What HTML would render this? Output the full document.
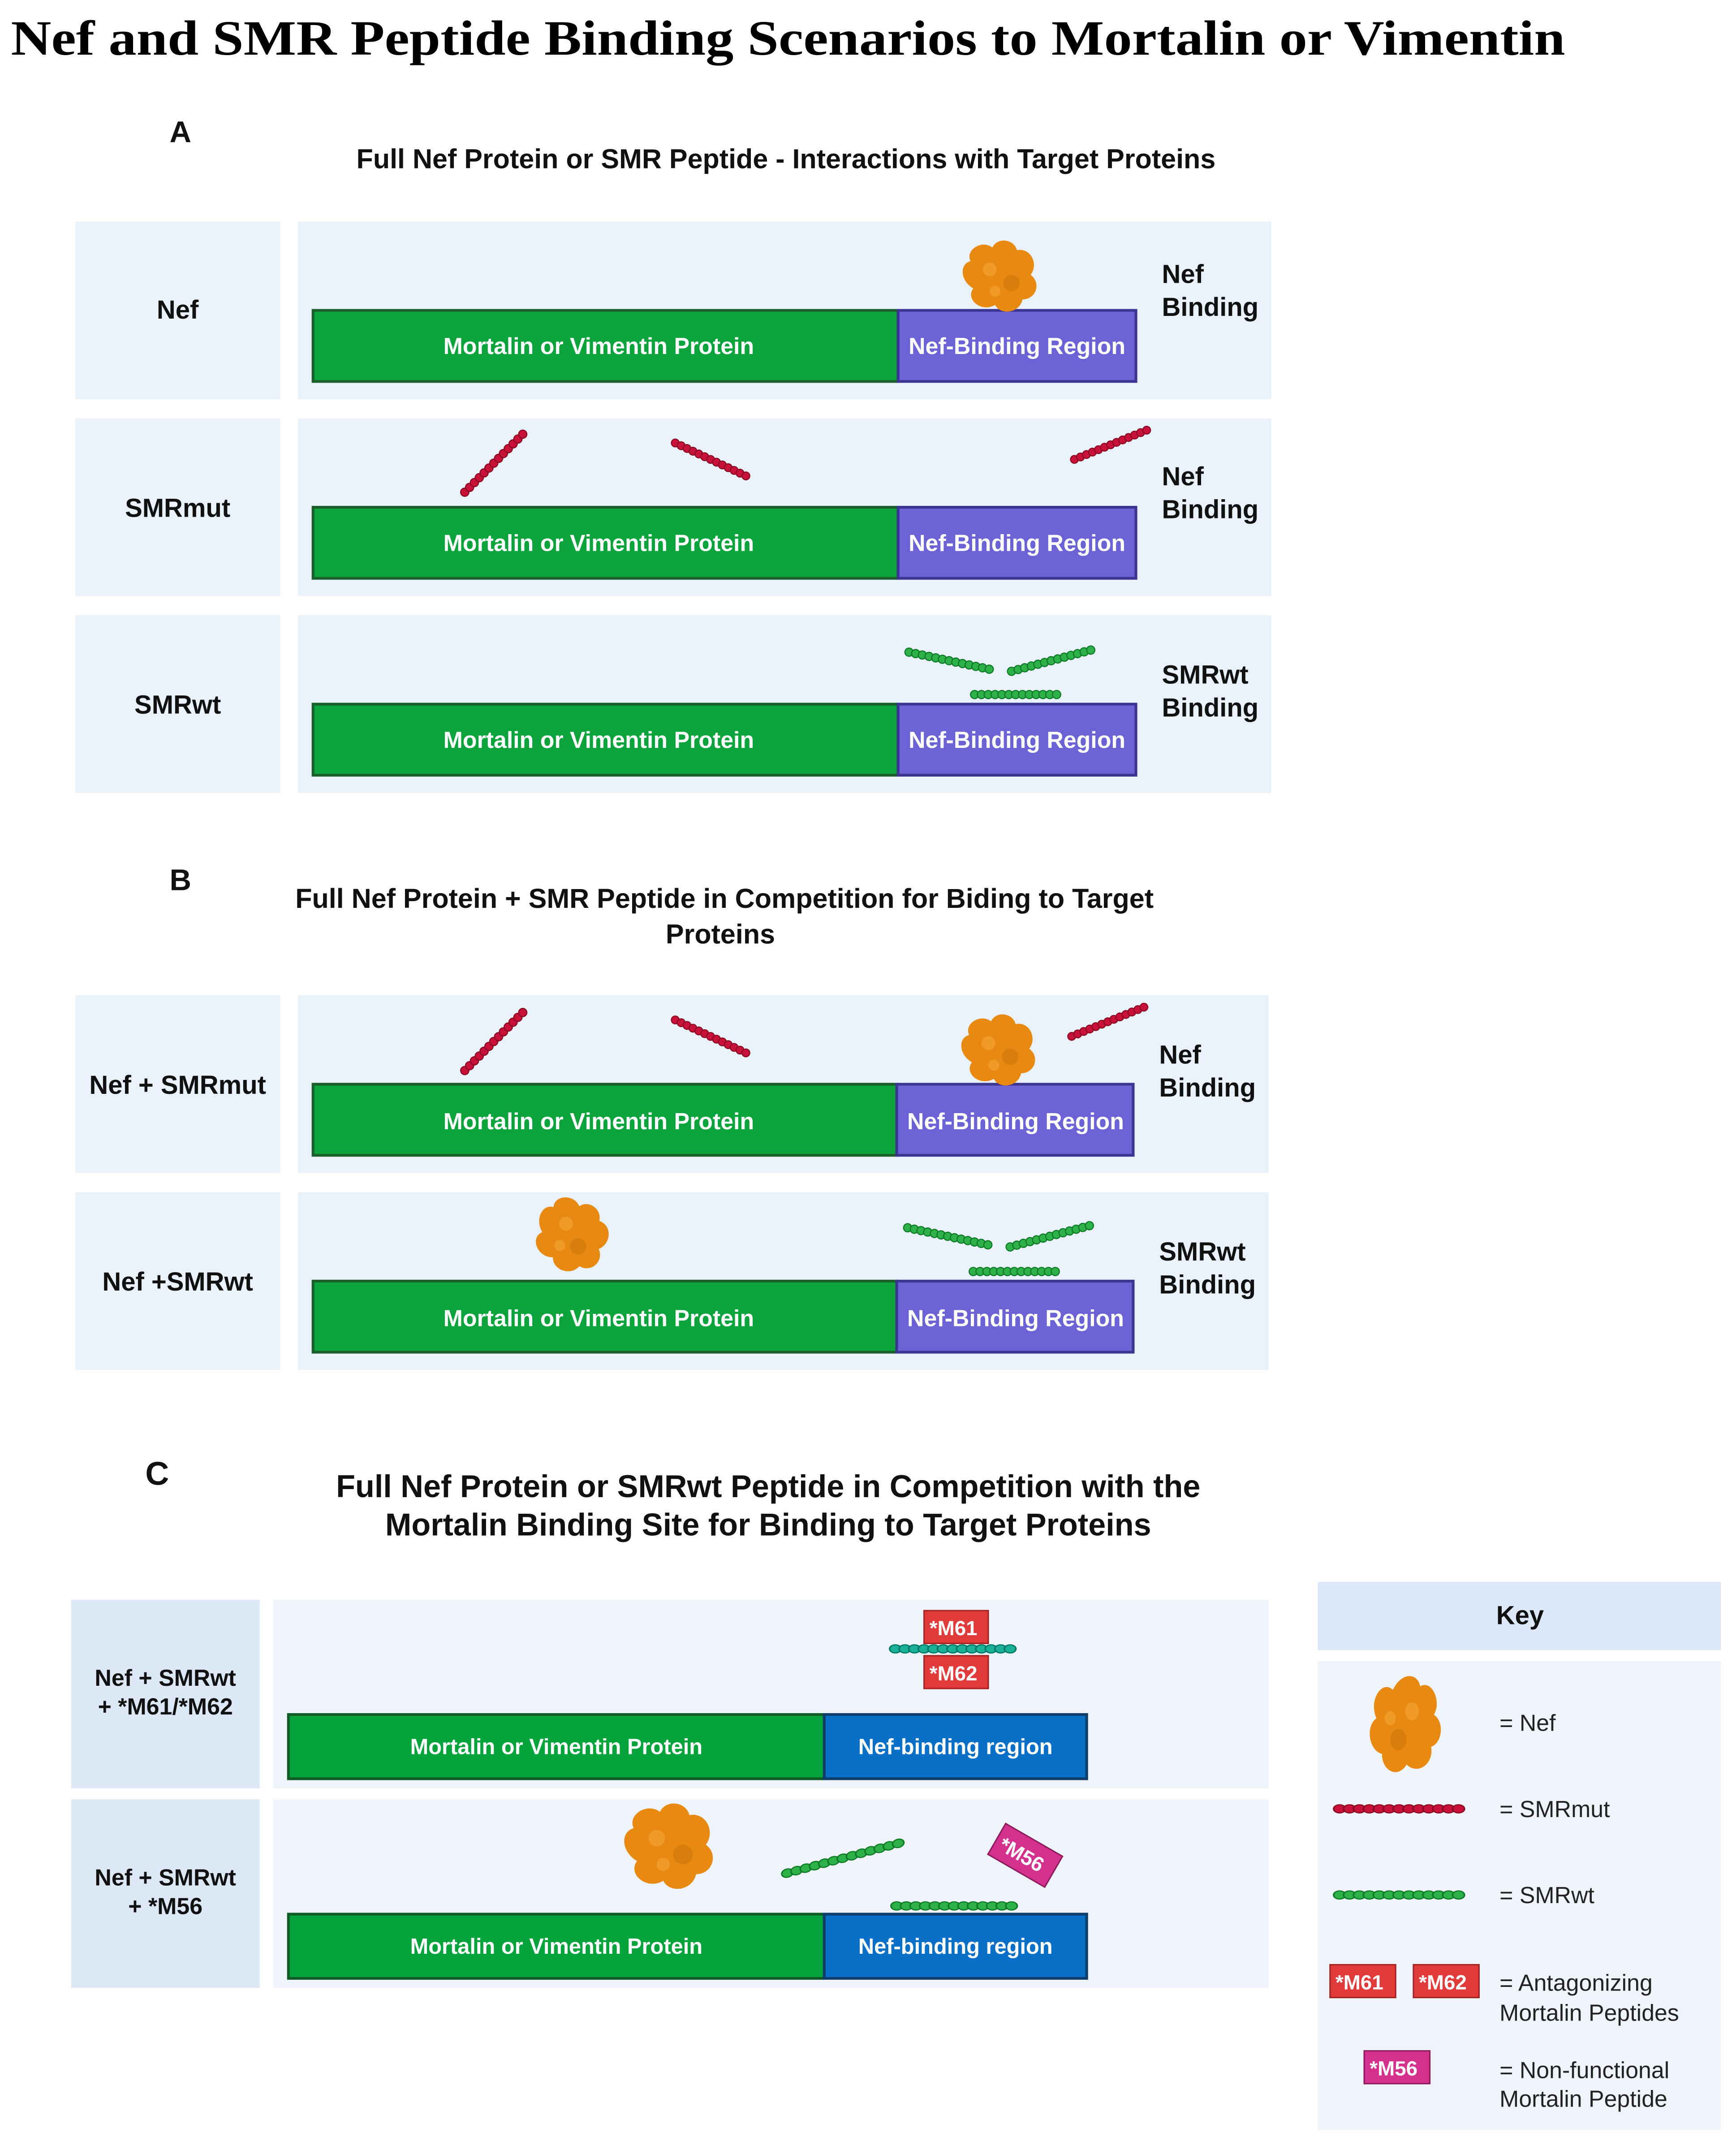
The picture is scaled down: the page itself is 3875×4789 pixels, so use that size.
<!DOCTYPE html>
<html><head><meta charset="utf-8"><style>
html,body{margin:0;padding:0;background:#fff;}
svg{display:block;}
text{font-family:"Liberation Sans",sans-serif;}
</style></head><body>
<svg width="3875" height="4789" viewBox="0 0 1270 1569.6" preserveAspectRatio="none" xmlns="http://www.w3.org/2000/svg">
<defs>
<g id="nef">
 <path d="M-22,-14 C-26,-22 -14,-30 -6,-24 C-2,-32 10,-30 12,-22 C22,-24 28,-12 22,-4 C30,2 26,14 16,14 C14,24 0,26 -4,18 C-14,24 -26,14 -20,6 C-30,0 -30,-12 -22,-14 Z" fill="#e88a12"/>
 <circle cx="-8" cy="-8" r="5" fill="#f09a28"/><circle cx="8" cy="2" r="6" fill="#d77d0c"/><circle cx="-4" cy="8" r="4" fill="#f09a28"/>
</g>
<g id="pm">
 <g fill="#c8123a" stroke="#8a0a22" stroke-width="0.8">
 <circle cx="0" cy="0" r="3"/><circle cx="5" cy="0" r="3"/><circle cx="10" cy="0" r="3"/><circle cx="15" cy="0" r="3"/><circle cx="20" cy="0" r="3"/><circle cx="25" cy="0" r="3"/><circle cx="30" cy="0" r="3"/><circle cx="35" cy="0" r="3"/><circle cx="40" cy="0" r="3"/><circle cx="45" cy="0" r="3"/><circle cx="50" cy="0" r="3"/><circle cx="55" cy="0" r="3"/><circle cx="60" cy="0" r="3"/>
 </g>
</g>
<g id="pw">
 <g fill="#2fb14a" stroke="#0d7a26" stroke-width="0.8">
 <circle cx="0" cy="0" r="3"/><circle cx="5" cy="0" r="3"/><circle cx="10" cy="0" r="3"/><circle cx="15" cy="0" r="3"/><circle cx="20" cy="0" r="3"/><circle cx="25" cy="0" r="3"/><circle cx="30" cy="0" r="3"/><circle cx="35" cy="0" r="3"/><circle cx="40" cy="0" r="3"/><circle cx="45" cy="0" r="3"/><circle cx="50" cy="0" r="3"/><circle cx="55" cy="0" r="3"/><circle cx="60" cy="0" r="3"/>
 </g>
</g>
</defs>
<rect width="1270" height="1570" fill="#fff"/>
<text x="8" y="40" font-weight="bold" font-size="36" textLength="1137" lengthAdjust="spacingAndGlyphs" style="font-family:'Liberation Serif',serif">Nef and SMR Peptide Binding Scenarios to Mortalin or Vimentin</text>

<g font-weight="bold" fill="#111">
<text x="132" y="104" font-size="22" text-anchor="middle">A</text>
<text x="575" y="123" font-size="20" text-anchor="middle">Full Nef Protein or SMR Peptide - Interactions with Target Proteins</text>
</g>

<g>
<rect x="55" y="162" width="150" height="130" fill="#e9f1fb"/><rect x="218" y="162" width="712" height="130" fill="#e9f1fb"/>
<rect x="55" y="306" width="150" height="130" fill="#e9f1fb"/><rect x="218" y="306" width="712" height="130" fill="#e9f1fb"/>
<rect x="55" y="450" width="150" height="130" fill="#e9f1fb"/><rect x="218" y="450" width="712" height="130" fill="#e9f1fb"/>
</g>
<g font-weight="bold" font-size="19" fill="#111" text-anchor="middle">
<text x="130" y="233">Nef</text><text x="130" y="378">SMRmut</text><text x="130" y="522">SMRwt</text>
</g>
<g font-weight="bold" font-size="19" fill="#111">
<text x="850" y="207">Nef</text><text x="850" y="231">Binding</text>
<text x="850" y="355">Nef</text><text x="850" y="379">Binding</text>
<text x="850" y="500">SMRwt</text><text x="850" y="524">Binding</text>
</g>
<g stroke="#1a5e2a" stroke-width="2">
<rect x="229" y="227" width="428" height="52" fill="#0ba33b"/><rect x="657" y="227" width="174" height="52" fill="#6b62d6" stroke="#3b3490"/>
<rect x="229" y="371" width="428" height="52" fill="#0ba33b"/><rect x="657" y="371" width="174" height="52" fill="#6b62d6" stroke="#3b3490"/>
<rect x="229" y="515" width="428" height="52" fill="#0ba33b"/><rect x="657" y="515" width="174" height="52" fill="#6b62d6" stroke="#3b3490"/>
</g>
<g font-weight="bold" font-size="17" fill="#fff" text-anchor="middle">
<text x="438" y="259">Mortalin or Vimentin Protein</text><text x="744" y="259">Nef-Binding Region</text>
<text x="438" y="403">Mortalin or Vimentin Protein</text><text x="744" y="403">Nef-Binding Region</text>
<text x="438" y="547">Mortalin or Vimentin Protein</text><text x="744" y="547">Nef-Binding Region</text>
</g>
<use href="#nef" transform="translate(732,205)"/>
<use href="#pm" transform="translate(340,360) rotate(-45)"/>
<use href="#pm" transform="translate(494,324) rotate(25) scale(0.95)"/>
<use href="#pm" transform="translate(786,336) rotate(-22) scale(0.95)"/>
<use href="#pw" transform="translate(665,477) rotate(12)"/>
<use href="#pw" transform="translate(740,491) rotate(-15)"/>
<use href="#pw" transform="translate(713,508)"/>

<g font-weight="bold" fill="#111">
<text x="132" y="651" font-size="22" text-anchor="middle">B</text>
<text x="530" y="664" font-size="20" text-anchor="middle">Full Nef Protein + SMR Peptide in Competition for Biding to Target</text>
<text x="527" y="690" font-size="20" text-anchor="middle">Proteins</text>
</g>
<rect x="55" y="728" width="150" height="130" fill="#e9f1fb"/><rect x="218" y="728" width="710" height="130" fill="#e9f1fb"/>
<rect x="55" y="872" width="150" height="130" fill="#e9f1fb"/><rect x="218" y="872" width="710" height="130" fill="#e9f1fb"/>
<g font-weight="bold" font-size="19" fill="#111" text-anchor="middle">
<text x="130" y="800">Nef + SMRmut</text><text x="130" y="944">Nef +SMRwt</text>
</g>
<g font-weight="bold" font-size="19" fill="#111">
<text x="848" y="778">Nef</text><text x="848" y="802">Binding</text>
<text x="848" y="922">SMRwt</text><text x="848" y="946">Binding</text>
</g>
<g stroke="#1a5e2a" stroke-width="2">
<rect x="229" y="793" width="427" height="52" fill="#0ba33b"/><rect x="656" y="793" width="173" height="52" fill="#6b62d6" stroke="#3b3490"/>
<rect x="229" y="937" width="427" height="52" fill="#0ba33b"/><rect x="656" y="937" width="173" height="52" fill="#6b62d6" stroke="#3b3490"/>
</g>
<g font-weight="bold" font-size="17" fill="#fff" text-anchor="middle">
<text x="438" y="826">Mortalin or Vimentin Protein</text><text x="743" y="826">Nef-Binding Region</text>
<text x="438" y="970">Mortalin or Vimentin Protein</text><text x="743" y="970">Nef-Binding Region</text>
</g>
<use href="#nef" transform="translate(731,771)"/>
<use href="#pm" transform="translate(340,783) rotate(-45)"/>
<use href="#pm" transform="translate(494,746) rotate(25) scale(0.95)"/>
<use href="#pm" transform="translate(784,758) rotate(-22) scale(0.95)"/>
<use href="#nef" transform="translate(417,906) rotate(30)"/>
<use href="#pw" transform="translate(664,898) rotate(12)"/>
<use href="#pw" transform="translate(739,912) rotate(-15)"/>
<use href="#pw" transform="translate(712,930)"/>

<g font-weight="bold" fill="#111">
<text x="115" y="1086" font-size="24" text-anchor="middle">C</text>
<text x="562" y="1095" font-size="23" text-anchor="middle">Full Nef Protein or SMRwt Peptide in Competition with the</text>
<text x="562" y="1123" font-size="23" text-anchor="middle">Mortalin Binding Site for Binding to Target Proteins</text>
</g>
<rect x="52" y="1170" width="138" height="138" fill="#dde8f7"/><rect x="200" y="1170" width="728" height="138" fill="#eff4fa"/>
<rect x="52" y="1316" width="138" height="138" fill="#dde8f7"/><rect x="200" y="1316" width="728" height="138" fill="#eff4fa"/>
<g font-weight="bold" font-size="17" fill="#111" text-anchor="middle">
<text x="121" y="1233">Nef + SMRwt</text><text x="121" y="1254">+ *M61/*M62</text>
<text x="121" y="1379">Nef + SMRwt</text><text x="121" y="1400">+ *M56</text>
</g>
<g stroke="#0d3d6b" stroke-width="2">
<rect x="211" y="1254" width="392" height="47" fill="#05a33b" stroke="#0f5a25"/><rect x="603" y="1254" width="192" height="47" fill="#0a6fc6"/>
<rect x="211" y="1400" width="392" height="47" fill="#05a33b" stroke="#0f5a25"/><rect x="603" y="1400" width="192" height="47" fill="#0a6fc6"/>
</g>
<g font-weight="bold" font-size="16" fill="#fff" text-anchor="middle">
<text x="407" y="1283">Mortalin or Vimentin Protein</text><text x="699" y="1283">Nef-binding region</text>
<text x="407" y="1429">Mortalin or Vimentin Protein</text><text x="699" y="1429">Nef-binding region</text>
</g>
<g font-size="15" font-weight="bold" fill="#fff">
<rect x="676" y="1178" width="47" height="24" fill="#e03a3a" stroke="#a32020"/><text x="680" y="1196">*M61</text>
<g transform="translate(655,1206)"><use href="#pw" transform="scale(1.4,1)" style="filter:hue-rotate(40deg)"/></g>
<rect x="676" y="1211" width="47" height="24" fill="#e03a3a" stroke="#a32020"/><text x="680" y="1229">*M62</text>
</g>
<use href="#nef" transform="translate(490,1354) scale(1.2)"/>
<use href="#pw" transform="translate(576,1370) rotate(-15) scale(1.4,1)"/>
<use href="#pw" transform="translate(656,1394) scale(1.4,1)"/>
<g transform="translate(750,1357) rotate(30)"><rect x="-24" y="-13" width="48" height="26" fill="#d4318f" stroke="#8a1a5c"/><text x="-20" y="6" font-size="15" font-weight="bold" fill="#fff">*M56</text></g>

<rect x="964" y="1157" width="295" height="50" fill="#dce8f7"/>
<text x="1112" y="1188" font-weight="bold" font-size="19" text-anchor="middle" fill="#111">Key</text>
<rect x="964" y="1215" width="295" height="343" fill="#eff4fa"/>
<use href="#nef" transform="translate(1025,1262) rotate(90) scale(1.3,1)"/>
<use href="#pm" transform="translate(980,1323) scale(1.45,1)"/>
<use href="#pw" transform="translate(980,1386) scale(1.45,1)"/>
<g font-size="17" fill="#222">
<text x="1097" y="1266">= Nef</text>
<text x="1097" y="1329">= SMRmut</text>
<text x="1097" y="1392">= SMRwt</text>
<text x="1097" y="1456">= Antagonizing</text><text x="1097" y="1478">Mortalin Peptides</text>
<text x="1097" y="1520">= Non-functional</text><text x="1097" y="1541">Mortalin Peptide</text>
</g>
<g font-size="15" font-weight="bold" fill="#fff">
<rect x="973" y="1437" width="48" height="24" fill="#e03a3a" stroke="#a32020"/><text x="977" y="1455">*M61</text>
<rect x="1034" y="1437" width="48" height="24" fill="#e03a3a" stroke="#a32020"/><text x="1038" y="1455">*M62</text>
<rect x="998" y="1500" width="48" height="24" fill="#d4318f" stroke="#8a1a5c"/><text x="1002" y="1518">*M56</text>
</g>
</svg>
</body></html>
